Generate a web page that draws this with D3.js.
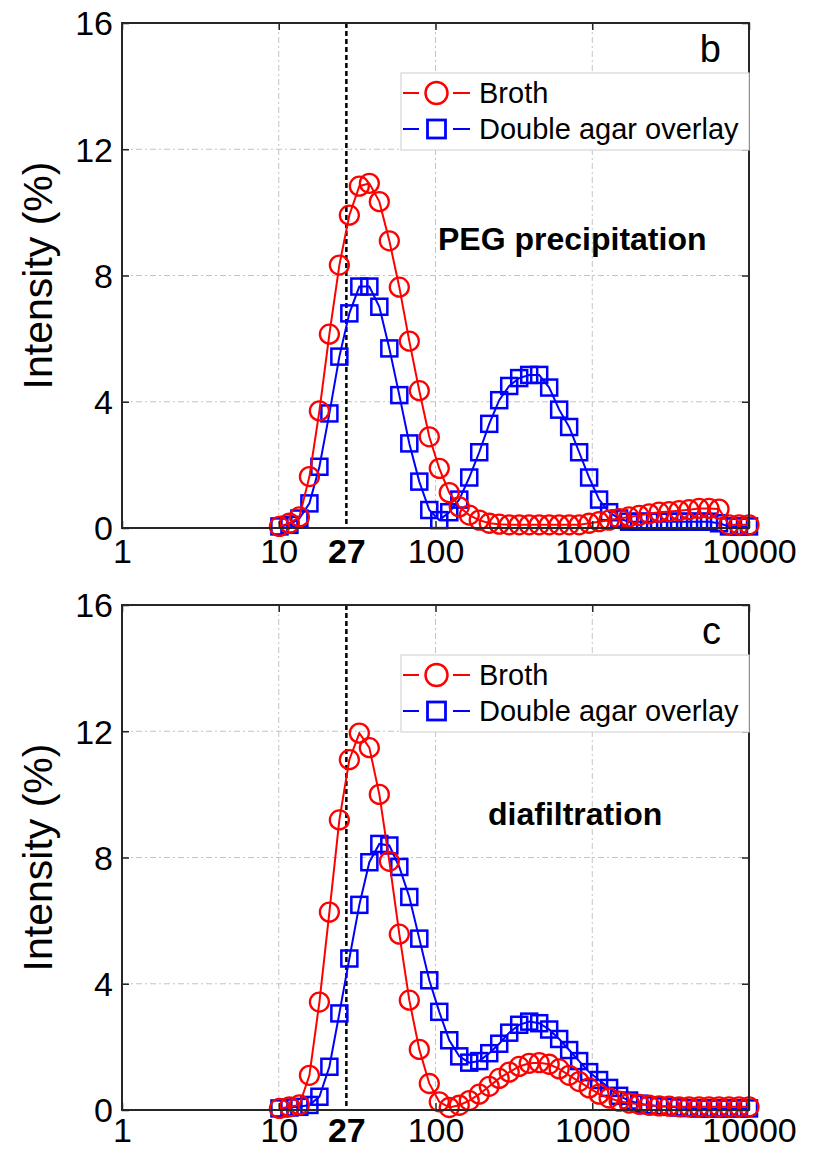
<!DOCTYPE html>
<html><head><meta charset="utf-8">
<script src="https://cdn.jsdelivr.net/npm/d3@7"></script>
<style>
body{margin:0;background:#fff;}
svg{display:block;font-family:"Liberation Sans",Arial,sans-serif;}
</style></head>
<body><svg id="c" width="813" height="1150"></svg>
<script>
// Particle size bins (nm)
const sizes = [10.1,11.7,13.54,15.69,18.17,21.04,24.36,28.21,32.67,37.84,43.82,50.75,58.77,68.06,78.82,91.28,105.7,122.4,141.8,164.2,190.1,220.2,255.0,295.3,342.0,396.1,458.7,531.2,615.1,712.4,825.0,955.4,1106,1281,1484,1718,1990,2305,2669,3091,3580,4145,4801,5560,6439,7456,8635,10000];

// Panel b: PEG precipitation
const brothB = [0.05,0.15,0.35,1.63,3.71,6.14,8.33,9.91,10.83,10.92,10.34,9.1,7.63,5.92,4.35,2.89,1.89,1.12,0.67,0.41,0.25,0.15,0.12,0.1,0.1,0.1,0.1,0.1,0.1,0.1,0.1,0.15,0.2,0.25,0.3,0.35,0.4,0.45,0.5,0.52,0.55,0.58,0.62,0.62,0.6,0.1,0.1,0.1];
const overlayB = [0.05,0.1,0.3,0.78,1.94,3.63,5.43,6.8,7.65,7.65,7.01,5.69,4.21,2.68,1.47,0.57,0.25,0.5,0.9,1.6,2.4,3.3,4.05,4.5,4.75,4.85,4.85,4.45,3.75,3.2,2.4,1.6,0.9,0.5,0.3,0.2,0.2,0.2,0.2,0.2,0.2,0.2,0.2,0.2,0.15,0.05,0.05,0.05];

// Panel c: diafiltration
const brothC = [0.05,0.1,0.16,1.1,3.42,6.27,9.19,11.1,11.94,11.48,10.0,7.88,5.57,3.48,1.92,0.84,0.26,0.08,0.15,0.3,0.5,0.75,1.0,1.2,1.38,1.48,1.5,1.45,1.3,1.1,0.9,0.7,0.5,0.38,0.28,0.22,0.18,0.15,0.13,0.12,0.1,0.1,0.1,0.1,0.1,0.1,0.1,0.1];
const overlayC = [0.05,0.08,0.1,0.16,0.42,1.37,3.06,4.8,6.5,7.85,8.43,8.38,7.7,6.75,5.43,4.11,3.11,2.21,1.7,1.5,1.55,1.8,2.1,2.45,2.7,2.8,2.75,2.55,2.25,1.9,1.55,1.2,0.95,0.7,0.45,0.3,0.2,0.15,0.12,0.1,0.08,0.06,0.05,0.05,0.05,0.05,0.05,0.05];

const xTicks = [1,10,100,1000,10000];
const yTicks = [0,4,8,12,16];
const markLine = 27;
const seriesNames = ["Broth","Double agar overlay"];
const panels = [
  {letter:"b", note:"PEG precipitation", broth:brothB, overlay:overlayB},
  {letter:"c", note:"diafiltration", broth:brothC, overlay:overlayC}
];

const svg = d3.select("#c");
const L=122, R=749;
const RED="#ff0000", BLUE="#0000ff";
const panelTops=[23,605], panelH=505;
const noteX=[438,488], noteY=[250,825-582];
const xPad=[11,8];

panels.forEach((p,pi)=>{
  const top=panelTops[pi], bot=top+panelH;
  const x=d3.scaleLog().domain([1,10000]).range([L,R]);
  const y=d3.scaleLinear().domain([0,16]).range([bot,top]);
  const g=svg.append("g");

  // grid
  const gridDash="6,3,2,3";
  g.selectAll(".gx").data(xTicks.slice(1,-1)).join("line")
    .attr("x1",d=>x(d)).attr("x2",d=>x(d)).attr("y1",top).attr("y2",bot)
    .attr("stroke","#c4c4c4").attr("stroke-width",1).attr("stroke-dasharray",gridDash);
  g.selectAll(".gy").data(yTicks.slice(1,-1)).join("line")
    .attr("y1",d=>y(d)).attr("y2",d=>y(d)).attr("x1",L).attr("x2",R)
    .attr("stroke","#c4c4c4").attr("stroke-width",1).attr("stroke-dasharray",gridDash);

  // dashed 27 line
  g.append("line").attr("x1",x(markLine)).attr("x2",x(markLine)).attr("y1",top).attr("y2",bot)
    .attr("stroke","#000").attr("stroke-width",2.5).attr("stroke-dasharray","5,3");

  const line=d3.line().x((d,i)=>x(sizes[i])).y(d=>y(d));
  // blue series
  g.append("path").datum(p.overlay).attr("d",line).attr("fill","none").attr("stroke",BLUE).attr("stroke-width",2);
  const sq=16;
  g.selectAll(".sq").data(p.overlay).join("rect")
    .attr("x",(d,i)=>x(sizes[i])-sq/2).attr("y",d=>y(d)-sq/2).attr("width",sq).attr("height",sq)
    .attr("fill","none").attr("stroke",BLUE).attr("stroke-width",2.5);
  // red series
  g.append("path").datum(p.broth).attr("d",line).attr("fill","none").attr("stroke",RED).attr("stroke-width",2);
  g.selectAll(".ci").data(p.broth).join("circle")
    .attr("cx",(d,i)=>x(sizes[i])).attr("cy",d=>y(d)).attr("r",9.5)
    .attr("fill","none").attr("stroke",RED).attr("stroke-width",2.3);

  // axes
  const fs=34;
  const ax=g.append("g").attr("transform",`translate(0,${bot})`)
    .call(d3.axisBottom(x).tickValues(xTicks).tickFormat(d3.format("d")).tickSizeInner(-7).tickSizeOuter(0).tickPadding(xPad[pi]));
  const ax27=g.append("g").attr("transform",`translate(0,${bot})`)
    .call(d3.axisBottom(x).tickValues([markLine]).tickFormat(d3.format("d")).tickSize(0).tickPadding(xPad[pi]));
  ax27.selectAll("text").attr("font-weight","bold");
  const ay=g.append("g").attr("transform",`translate(${L},0)`)
    .call(d3.axisLeft(y).tickValues(yTicks).tickSizeInner(-7).tickSizeOuter(0).tickPadding(9));
  const ar=g.append("g").attr("transform",`translate(${R},0)`)
    .call(d3.axisRight(y).tickValues(yTicks).tickFormat("").tickSizeInner(-7).tickSizeOuter(0));
  const at=g.append("g").attr("transform",`translate(0,${top})`)
    .call(d3.axisTop(x).tickValues(xTicks).tickFormat("").tickSizeInner(-7).tickSizeOuter(0));
  [ax,ax27,ay,ar,at].forEach(a=>{
    a.select(".domain").remove();
    a.selectAll("line").attr("stroke","#262626").attr("stroke-width",1.5);
    a.selectAll("text").attr("font-size",fs).attr("fill","#000").attr("font-family",'"Liberation Sans",Arial,sans-serif');
  });
  ay.selectAll("text").attr("dy","0.35em");

  // frame
  g.append("rect").attr("x",L).attr("y",top).attr("width",R-L).attr("height",bot-top)
    .attr("fill","none").attr("stroke","#262626").attr("stroke-width",2);

  // y label
  g.append("text").attr("transform",`translate(52,${(top+bot)/2}) rotate(-90)`)
    .attr("text-anchor","middle").attr("font-size",41).text("Intensity (%)");

  // panel letter
  g.append("text").attr("x",721).attr("y",top+39).attr("text-anchor","end")
    .attr("font-size",38).text(p.letter);
  // note
  g.append("text").attr("x",noteX[pi]).attr("y",top+noteY[pi]-23).attr("font-size",32)
    .attr("font-weight","bold").text(p.note);

  // legend
  const lg=g.append("g").attr("transform",`translate(401,${top+50})`);
  lg.append("rect").attr("x",0).attr("y",0).attr("width",R-401).attr("height",77)
    .attr("fill","#fff").attr("stroke","#d6d6d6").attr("stroke-width",1.2);
  const rows=[{c:RED,y:20,t:seriesNames[0],m:"c"},{c:BLUE,y:56,t:seriesNames[1],m:"s"}];
  rows.forEach(r=>{
    lg.append("line").attr("x1",2).attr("x2",18).attr("y1",r.y).attr("y2",r.y).attr("stroke",r.c).attr("stroke-width",2);
    lg.append("line").attr("x1",52).attr("x2",69).attr("y1",r.y).attr("y2",r.y).attr("stroke",r.c).attr("stroke-width",2);
    if(r.m==="c") lg.append("circle").attr("cx",35.5).attr("cy",r.y).attr("r",11).attr("fill","none").attr("stroke",r.c).attr("stroke-width",2.5);
    else lg.append("rect").attr("x",26.5).attr("y",r.y-9).attr("width",18).attr("height",18).attr("fill","none").attr("stroke",r.c).attr("stroke-width",2.8);
    lg.append("text").attr("x",78).attr("y",r.y).attr("dy","0.36em").attr("font-size",29).text(r.t);
  });
});
</script></body></html>
